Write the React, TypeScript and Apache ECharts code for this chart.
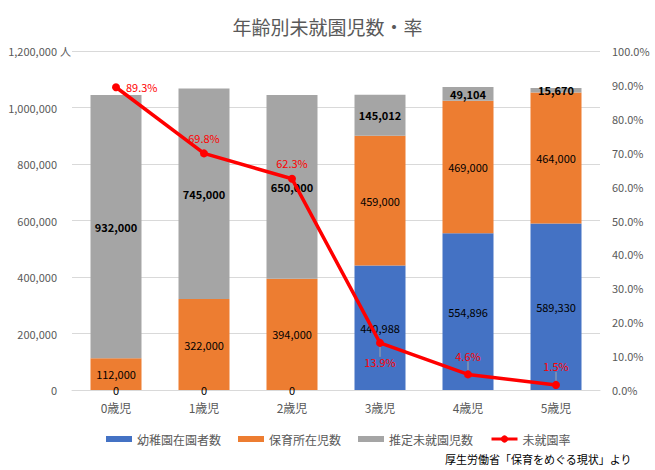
import React, { useEffect, useRef } from "react";
import * as echarts from "echarts";

const categories = ["0歳児", "1歳児", "2歳児", "3歳児", "4歳児", "5歳児"];
const kindergarten = [0, 0, 0, 440988, 554896, 589330];
const nursery = [112000, 322000, 394000, 459000, 469000, 464000];
const notEnrolled = [932000, 745000, 650000, 145012, 49104, 15670];
const notEnrolledRate = [89.3, 69.8, 62.3, 13.9, 4.6, 1.5];
const ratePositions = ["right", "top", "top", "bottom", "top", "top"];

const seriesNames = ["幼稚園在園者数", "保育所在児数", "推定未就園児数", "未就園率"];
const colors = ["#4472C4", "#ED7D31", "#A5A5A5", "#FF0000"];

const FONT = "'Noto Sans CJK JP', 'Noto Sans', sans-serif";
const RECT_ICON = "path://M0,0H26V6H0Z";

const fmtNum = (v: number) => v.toLocaleString("en-US");

export default function App() {
  const ref = useRef<HTMLDivElement>(null);
  useEffect(() => {
    if (!ref.current) return;
    const chart = echarts.init(ref.current, undefined, { renderer: "svg" });
    const barLabel = (bold: boolean) => ({
      show: true,
      position: "inside" as const,
      color: "#000",
      fontSize: 11,
      fontWeight: bold ? ("bold" as const) : ("normal" as const),
      fontFamily: FONT,
      formatter: (p: any) => fmtNum(p.value),
    });
    chart.setOption({
      animation: false,
      textStyle: { fontFamily: FONT },
      title: {
        text: "年齢別未就園児数・率",
        left: "center",
        top: 12,
        textStyle: { fontSize: 19, fontWeight: "normal", color: "#595959", fontFamily: FONT },
      },
      grid: { left: 72, right: 55, top: 51, bottom: 80, containLabel: false },
      legend: {
        data: [
          { name: seriesNames[0], icon: RECT_ICON },
          { name: seriesNames[1], icon: RECT_ICON },
          { name: seriesNames[2], icon: RECT_ICON },
          { name: seriesNames[3] },
        ],
        left: 101,
        top: 428,
        itemWidth: 26,
        itemHeight: 9,
        itemGap: 17,
        lineStyle: { width: 3 },
        textStyle: { color: "#595959", fontSize: 12, fontFamily: FONT },
      },
      xAxis: {
        type: "category",
        data: categories,
        axisLine: { show: true, lineStyle: { color: "#D9D9D9" } },
        axisTick: { show: false },
        axisLabel: { color: "#595959", fontSize: 12, margin: 11, fontFamily: FONT },
      },
      yAxis: [
        {
          type: "value",
          min: 0,
          max: 1200000,
          interval: 200000,
          axisLine: { show: false },
          axisTick: { show: false },
          splitLine: { lineStyle: { color: "#D9D9D9" } },
          axisLabel: {
            color: "#595959",
            fontSize: 11,
            margin: 15,
            fontFamily: FONT,
            formatter: (v: number) => fmtNum(v),
          },
        },
        {
          type: "value",
          min: 0,
          max: 100,
          interval: 10,
          axisLine: { show: false },
          axisTick: { show: false },
          splitLine: { show: false },
          axisLabel: {
            color: "#595959",
            fontSize: 11,
            margin: 12,
            fontFamily: FONT,
            formatter: (v: number) => v.toFixed(1) + "%",
          },
        },
      ],
      graphic: [
        {
          type: "text",
          left: 60,
          top: 45,
          style: { text: "人", fontSize: 11, fill: "#595959", fontFamily: FONT },
        },
        {
          type: "text",
          left: 445,
          top: 453,
          style: {
            text: "厚生労働省「保育をめぐる現状」より",
            fontSize: 11,
            fill: "#000",
            fontFamily: FONT,
          },
        },
      ],
      series: [
        {
          name: seriesNames[0],
          type: "bar",
          stack: "total",
          barWidth: 51,
          itemStyle: { color: colors[0] },
          label: barLabel(false),
          data: kindergarten,
        },
        {
          name: seriesNames[1],
          type: "bar",
          stack: "total",
          barWidth: 51,
          itemStyle: { color: colors[1] },
          label: barLabel(false),
          data: nursery,
        },
        {
          name: seriesNames[2],
          type: "bar",
          stack: "total",
          barWidth: 51,
          itemStyle: { color: colors[2] },
          label: barLabel(true),
          data: notEnrolled,
        },
        {
          name: seriesNames[3],
          type: "line",
          yAxisIndex: 1,
          z: 5,
          symbol: "circle",
          symbolSize: 8,
          itemStyle: { color: colors[3] },
          lineStyle: { color: colors[3], width: 3.5 },
          labelLayout: (p: any) => {
            if (p.dataIndex === 3) return { dy: 7 };
            if (p.dataIndex === 4 || p.dataIndex === 5) return { dy: -6 };
            return {};
          },
          data: notEnrolledRate.map((v, i) => ({
            value: v,
            labelLine: { show: i >= 3, lineStyle: { color: "#A6A6A6", width: 1 } },
            label: {
              show: true,
              position: ratePositions[i],
              distance: i === 0 ? 6 : i >= 3 ? 3 : 6,
              color: "#FF0000",
              fontSize: 11,
              fontFamily: FONT,
              formatter: (p: any) => p.value.toFixed(1) + "%",
            },
          })),
        },
      ],
    });
    return () => chart.dispose();
  }, []);
  return (
    <div
      ref={ref}
      style={{ position: "fixed", left: 0, top: 0, width: 655, height: 470, background: "#fff" }}
    />
  );
}
